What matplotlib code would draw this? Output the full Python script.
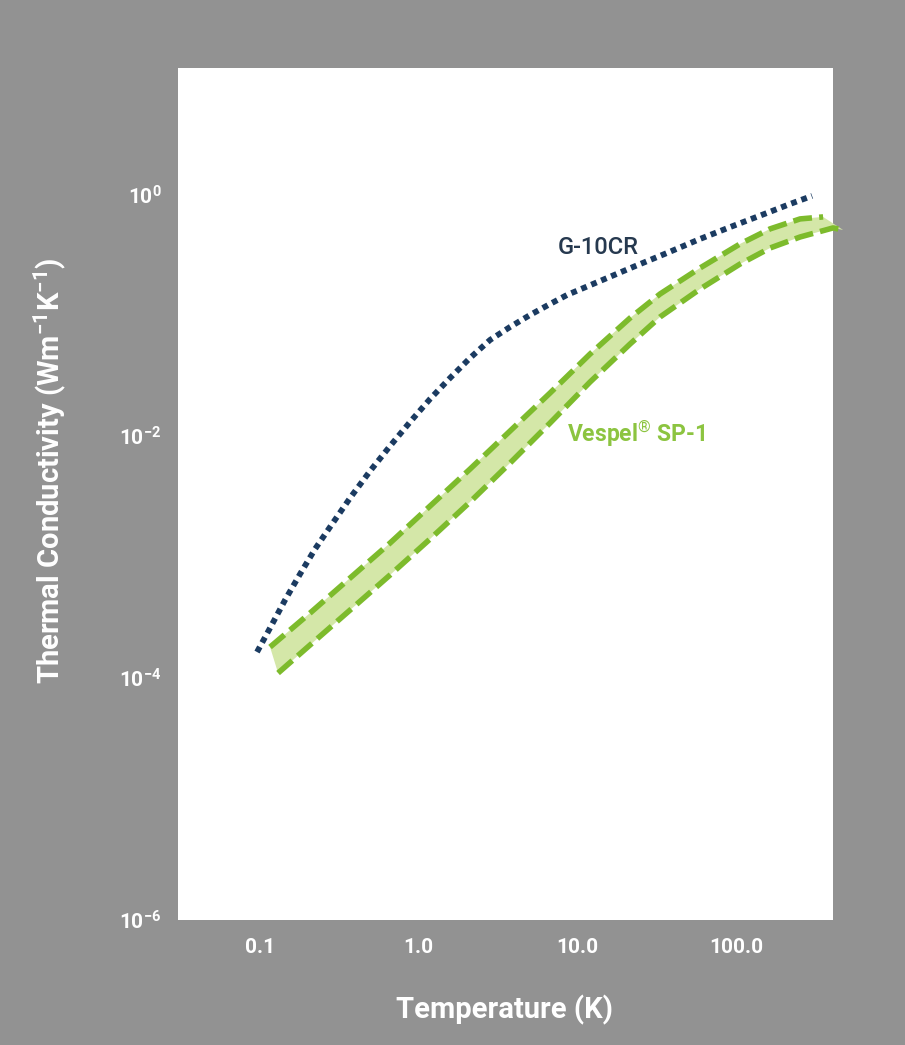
import matplotlib
matplotlib.use("Agg")
import matplotlib.pyplot as plt

plt.rcParams['font.family'] = ['Roboto', 'DejaVu Sans']
plt.rcParams['mathtext.fontset'] = 'custom'
plt.rcParams['mathtext.rm'] = 'Roboto'
plt.rcParams['mathtext.bf'] = 'Roboto:bold'
plt.rcParams['mathtext.it'] = 'Roboto:italic'

# ---- data ----
g10_T = [0.0957, 0.1156, 0.1438, 0.1787, 0.2221, 0.2761, 0.3693, 0.4934,
         0.6597, 0.8817, 1.179, 1.576, 2.106, 2.815, 3.764, 5.030, 6.725,
         8.607, 13.90, 22.43, 36.73, 59.32, 95.74, 156.8, 218.9, 301.3]
g10_k = [1.644e-4, 2.597e-4, 4.43e-4, 7.26e-4, 1.169e-3, 1.778e-3, 3.09e-3,
         5.16e-3, 8.31e-3, 0.01313, 0.02036, 0.03036, 0.04443, 0.06262,
         0.08017, 0.1007, 0.1242, 0.1475, 0.1924, 0.2512, 0.3281, 0.4285,
         0.5488, 0.7029, 0.8337, 0.9719]

vesp_hi_T = [0.1156, 0.2065, 0.3693, 0.6597, 1.179, 2.106, 3.764, 6.725,
             12.02, 21.47, 33.19, 59.32, 106.0, 163.8, 253.1, 353.4]
vesp_hi_k = [1.808e-4, 3.451e-4, 6.73e-4, 1.310e-3, 2.650e-3, 5.36e-3,
             0.01106, 0.02281, 0.04794, 0.09509, 0.1503, 0.2466, 0.3898,
             0.5188, 0.6271, 0.6516]

vesp_lo_T = [0.1299, 0.2065, 0.3693, 0.6597, 1.179, 2.106, 3.764, 6.725,
             12.02, 21.47, 33.19, 59.32, 106.0, 163.8, 253.1, 408.6, 472.4]
vesp_lo_k = [1.102e-4, 1.879e-4, 3.657e-4, 7.13e-4, 1.415e-3, 2.864e-3,
             6.01e-3, 0.01288, 0.02813, 0.05797, 0.0970, 0.1652, 0.2659,
             0.3606, 0.4446, 0.5284, 0.5081]

x_ticks = [0.1, 1.0, 10.0, 100.0]
x_labels = ['0.1', '1.0', '10.0', '100.0']
y_ticks = [1e0, 1e-2, 1e-4, 1e-6]
y_labels = [r'$\mathbf{10^{0}}$', r'$\mathbf{10^{-2}}$', r'$\mathbf{10^{-4}}$',
            r'$\mathbf{10^{-6}}$']

# ---- figure ----
BG = '#929292'
NAVY = '#1b3b61'
GREEN = '#7dbb2c'
FILL = '#d4e7a8'

fig = plt.figure(figsize=(9.05, 10.45), dpi=100, facecolor=BG)
ax = fig.add_axes([178/905, 1 - 920/1045, (833-178)/905, (920-68)/1045])
ax.set_facecolor('white')
ax.set_xscale('log')
ax.set_yscale('log')
ax.set_xlim(0.0304, 408)
ax.set_ylim(1e-6, 11.1)

for s in ax.spines.values():
    s.set_visible(False)

# Vespel band
poly_T = list(vesp_hi_T) + list(vesp_lo_T[::-1])
poly_k = list(vesp_hi_k) + list(vesp_lo_k[::-1])
ax.fill(poly_T, poly_k, color=FILL, lw=0, clip_on=False, zorder=2)
ax.plot(vesp_hi_T, vesp_hi_k, color=GREEN, lw=4.0, dashes=(3.4, 1.3),
        dash_capstyle='butt', clip_on=False, zorder=3)
ax.plot(vesp_lo_T, vesp_lo_k, color=GREEN, lw=4.0, dashes=(3.4, 1.3),
        dash_capstyle='butt', clip_on=False, zorder=3)

# G-10CR
ax.plot(g10_T, g10_k, color=NAVY, lw=4.2, dashes=(1.0, 0.85),
        dash_capstyle='butt', zorder=4)

ax.text(13.5, 0.361, 'G-10CR', color='#26394f', fontsize=17, ha='center',
        va='center', fontweight='medium', zorder=5)
ax.text(23.5, 0.0106, r'Vespel$^{\circledR}$ SP-1', color='#8cc440',
        fontsize=16.5, ha='center', va='center', fontweight='bold', zorder=5)

ax.set_xticks(x_ticks)
ax.set_xticklabels(x_labels)
ax.set_yticks(y_ticks)
ax.set_yticklabels(y_labels)
ax.minorticks_off()
ax.tick_params(axis='both', length=0, colors='white', labelsize=15)
ax.tick_params(axis='x', pad=13)
ax.tick_params(axis='y', pad=12)
for lab in ax.get_xticklabels():
    lab.set_fontweight('bold')

fig.text(504/905, 1 - 1010/1045, 'Temperature (K)', color='white', fontsize=21,
         fontweight='bold', ha='center', va='center')
fig.text(50/905, 1 - 471/1045,
         r'Thermal Conductivity (Wm$^{\mathbf{-1}}$K$^{\mathbf{-1}}$)',
         color='white', fontsize=21, fontweight='bold', ha='center',
         va='center', rotation=90)

fig.savefig('out.png', dpi=100, facecolor=BG)
